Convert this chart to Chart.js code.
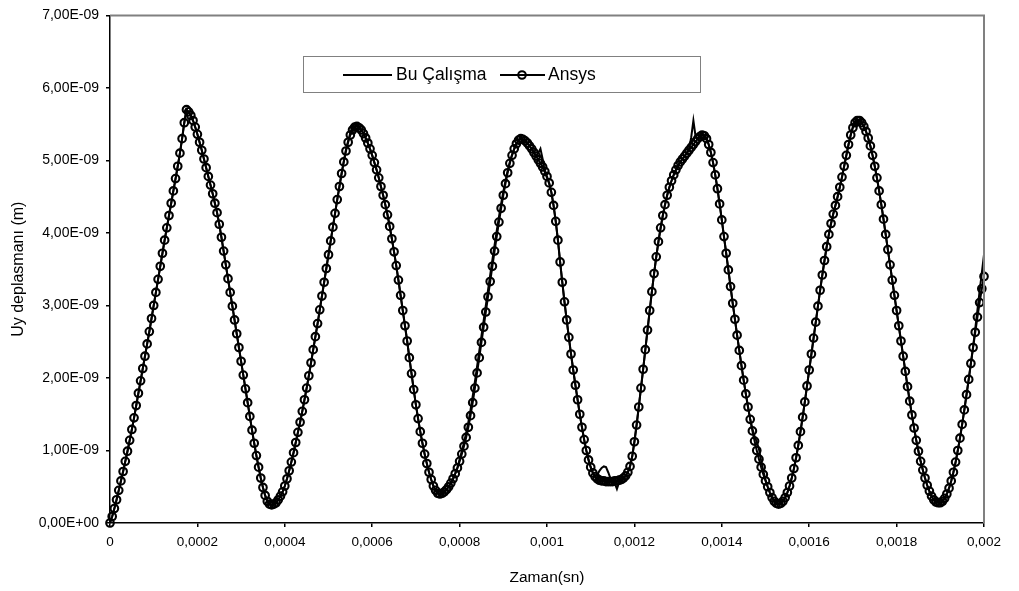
<!DOCTYPE html>
<html>
<head>
<meta charset="utf-8">
<script src="https://cdn.jsdelivr.net/npm/chart.js@4.4.1/dist/chart.umd.min.js"></script>
<style>
  html, body { margin: 0; padding: 0; background: #fff; }
  canvas { display: block; }
</style>
</head>
<body>
<canvas id="chart" width="1019" height="591"></canvas>
<script>
// zaman (mikrosaniye) - her iki seri için ortak
const timeUs = [
  0, 5, 10, 15, 20, 25, 30, 35, 40, 45, 50, 55, 60, 65, 70, 75, 80, 85, 90, 95,
  100, 105, 110, 115, 120, 125, 130, 135, 140, 145, 150, 155, 160, 165, 170, 175, 180, 185, 190, 195,
  200, 205, 210, 215, 220, 225, 230, 235, 240, 245, 250, 255, 260, 265, 270, 275, 280, 285, 290, 295,
  300, 305, 310, 315, 320, 325, 330, 335, 340, 345, 350, 355, 360, 365, 370, 375, 380, 385, 390, 395,
  400, 405, 410, 415, 420, 425, 430, 435, 440, 445, 450, 455, 460, 465, 470, 475, 480, 485, 490, 495,
  500, 505, 510, 515, 520, 525, 530, 535, 540, 545, 550, 555, 560, 565, 570, 575, 580, 585, 590, 595,
  600, 605, 610, 615, 620, 625, 630, 635, 640, 645, 650, 655, 660, 665, 670, 675, 680, 685, 690, 695,
  700, 705, 710, 715, 720, 725, 730, 735, 740, 745, 750, 755, 760, 765, 770, 775, 780, 785, 790, 795,
  800, 805, 810, 815, 820, 825, 830, 835, 840, 845, 850, 855, 860, 865, 870, 875, 880, 885, 890, 895,
  900, 905, 910, 915, 920, 925, 930, 935, 940, 945, 950, 955, 960, 965, 970, 975, 980, 985, 990, 995,
  1000, 1005, 1010, 1015, 1020, 1025, 1030, 1035, 1040, 1045, 1050, 1055, 1060, 1065, 1070, 1075, 1080, 1085, 1090, 1095,
  1100, 1105, 1110, 1115, 1120, 1125, 1130, 1135, 1140, 1145, 1150, 1155, 1160, 1165, 1170, 1175, 1180, 1185, 1190, 1195,
  1200, 1205, 1210, 1215, 1220, 1225, 1230, 1235, 1240, 1245, 1250, 1255, 1260, 1265, 1270, 1275, 1280, 1285, 1290, 1295,
  1300, 1305, 1310, 1315, 1320, 1325, 1330, 1335, 1340, 1345, 1350, 1355, 1360, 1365, 1370, 1375, 1380, 1385, 1390, 1395,
  1400, 1405, 1410, 1415, 1420, 1425, 1430, 1435, 1440, 1445, 1450, 1455, 1460, 1465, 1470, 1475, 1480, 1485, 1490, 1495,
  1500, 1505, 1510, 1515, 1520, 1525, 1530, 1535, 1540, 1545, 1550, 1555, 1560, 1565, 1570, 1575, 1580, 1585, 1590, 1595,
  1600, 1605, 1610, 1615, 1620, 1625, 1630, 1635, 1640, 1645, 1650, 1655, 1660, 1665, 1670, 1675, 1680, 1685, 1690, 1695,
  1700, 1705, 1710, 1715, 1720, 1725, 1730, 1735, 1740, 1745, 1750, 1755, 1760, 1765, 1770, 1775, 1780, 1785, 1790, 1795,
  1800, 1805, 1810, 1815, 1820, 1825, 1830, 1835, 1840, 1845, 1850, 1855, 1860, 1865, 1870, 1875, 1880, 1885, 1890, 1895,
  1900, 1905, 1910, 1915, 1920, 1925, 1930, 1935, 1940, 1945, 1950, 1955, 1960, 1965, 1970, 1975, 1980, 1985, 1990, 1995,
  2000
];

// Uy (x 1E-09 m) - Ansys
const ansysUy = [
  0.00, 0.09, 0.20, 0.32, 0.45, 0.58, 0.71, 0.85, 0.99, 1.14, 1.29, 1.45, 1.62, 1.79, 1.96, 2.13, 2.30, 2.47, 2.64, 2.82,
  3.00, 3.18, 3.36, 3.54, 3.72, 3.90, 4.07, 4.24, 4.41, 4.58, 4.75, 4.92, 5.10, 5.30, 5.52, 5.70, 5.67, 5.62, 5.55, 5.46,
  5.36, 5.25, 5.14, 5.02, 4.90, 4.78, 4.66, 4.54, 4.41, 4.28, 4.12, 3.94, 3.75, 3.56, 3.37, 3.18, 2.99, 2.80, 2.61, 2.42,
  2.23, 2.04, 1.85, 1.66, 1.47, 1.28, 1.10, 0.93, 0.77, 0.62, 0.49, 0.38, 0.30, 0.26, 0.25, 0.26, 0.28, 0.32, 0.37, 0.43,
  0.51, 0.61, 0.72, 0.84, 0.97, 1.11, 1.25, 1.39, 1.54, 1.70, 1.86, 2.03, 2.21, 2.39, 2.57, 2.75, 2.94, 3.13, 3.32, 3.51,
  3.70, 3.89, 4.08, 4.27, 4.46, 4.64, 4.82, 4.98, 5.13, 5.25, 5.35, 5.42, 5.46, 5.47, 5.45, 5.42, 5.37, 5.31, 5.24, 5.16,
  5.07, 4.97, 4.87, 4.76, 4.64, 4.52, 4.39, 4.25, 4.09, 3.92, 3.74, 3.55, 3.35, 3.14, 2.93, 2.72, 2.51, 2.28, 2.06, 1.84,
  1.63, 1.44, 1.26, 1.10, 0.95, 0.82, 0.70, 0.60, 0.51, 0.45, 0.41, 0.40, 0.41, 0.43, 0.46, 0.50, 0.55, 0.61, 0.68, 0.76,
  0.85, 0.95, 1.06, 1.18, 1.32, 1.48, 1.66, 1.86, 2.07, 2.28, 2.49, 2.70, 2.91, 3.12, 3.33, 3.54, 3.75, 3.95, 4.15, 4.34,
  4.52, 4.68, 4.83, 4.96, 5.07, 5.16, 5.23, 5.28, 5.30, 5.29, 5.27, 5.24, 5.20, 5.16, 5.11, 5.06, 5.01, 4.96, 4.91, 4.85,
  4.78, 4.69, 4.56, 4.38, 4.16, 3.90, 3.60, 3.32, 3.05, 2.80, 2.56, 2.33, 2.11, 1.90, 1.70, 1.50, 1.32, 1.15, 1.00, 0.87,
  0.77, 0.69, 0.64, 0.61, 0.59, 0.58, 0.58, 0.57, 0.57, 0.57, 0.57, 0.58, 0.58, 0.59, 0.60, 0.62, 0.65, 0.70, 0.78, 0.92,
  1.12, 1.35, 1.60, 1.86, 2.12, 2.39, 2.66, 2.93, 3.19, 3.44, 3.67, 3.88, 4.07, 4.24, 4.39, 4.52, 4.63, 4.72, 4.80, 4.87,
  4.93, 4.98, 5.02, 5.06, 5.10, 5.14, 5.18, 5.22, 5.26, 5.30, 5.33, 5.35, 5.34, 5.30, 5.22, 5.11, 4.97, 4.80, 4.61, 4.40,
  4.18, 3.95, 3.72, 3.49, 3.26, 3.03, 2.81, 2.59, 2.38, 2.17, 1.97, 1.78, 1.60, 1.43, 1.27, 1.13, 1.00, 0.88, 0.77, 0.67,
  0.58, 0.50, 0.42, 0.35, 0.30, 0.27, 0.26, 0.27, 0.30, 0.35, 0.42, 0.51, 0.62, 0.75, 0.90, 1.07, 1.26, 1.46, 1.67, 1.89,
  2.11, 2.33, 2.55, 2.77, 2.99, 3.21, 3.42, 3.62, 3.81, 3.98, 4.13, 4.26, 4.38, 4.50, 4.63, 4.77, 4.92, 5.07, 5.22, 5.35,
  5.45, 5.52, 5.55, 5.55, 5.52, 5.47, 5.40, 5.31, 5.20, 5.07, 4.92, 4.76, 4.58, 4.39, 4.19, 3.98, 3.77, 3.56, 3.35, 3.14,
  2.93, 2.72, 2.51, 2.30, 2.09, 1.88, 1.68, 1.49, 1.31, 1.14, 0.99, 0.85, 0.73, 0.62, 0.52, 0.44, 0.37, 0.32, 0.29, 0.28,
  0.28, 0.30, 0.34, 0.40, 0.48, 0.58, 0.70, 0.84, 1.00, 1.17, 1.36, 1.56, 1.77, 1.98, 2.20, 2.42, 2.63, 2.84, 3.04, 3.23,
  3.40
];

// Uy (x 1E-09 m) - Bu Çalışma
const buUy = [
  0.00, 0.09, 0.20, 0.32, 0.45, 0.58, 0.71, 0.85, 0.99, 1.14, 1.29, 1.45, 1.62, 1.79, 1.96, 2.13, 2.30, 2.47, 2.64, 2.82,
  3.00, 3.18, 3.36, 3.54, 3.72, 3.90, 4.07, 4.24, 4.41, 4.58, 4.75, 4.92, 5.10, 5.30, 5.52, 5.70, 5.67, 5.62, 5.55, 5.46,
  5.36, 5.25, 5.14, 5.02, 4.90, 4.78, 4.66, 4.54, 4.41, 4.28, 4.12, 3.94, 3.75, 3.56, 3.37, 3.18, 2.99, 2.80, 2.61, 2.42,
  2.23, 2.04, 1.85, 1.66, 1.47, 1.28, 1.10, 0.93, 0.77, 0.62, 0.49, 0.38, 0.30, 0.26, 0.25, 0.26, 0.28, 0.32, 0.37, 0.43,
  0.51, 0.61, 0.72, 0.84, 0.97, 1.11, 1.25, 1.39, 1.54, 1.70, 1.86, 2.03, 2.21, 2.39, 2.57, 2.75, 2.94, 3.13, 3.32, 3.51,
  3.70, 3.89, 4.08, 4.27, 4.46, 4.64, 4.82, 4.99, 5.15, 5.27, 5.38, 5.46, 5.50, 5.50, 5.47, 5.43, 5.37, 5.31, 5.24, 5.16,
  5.07, 4.97, 4.87, 4.76, 4.64, 4.52, 4.39, 4.25, 4.09, 3.92, 3.74, 3.55, 3.35, 3.14, 2.93, 2.72, 2.51, 2.28, 2.06, 1.84,
  1.63, 1.44, 1.26, 1.10, 0.95, 0.82, 0.70, 0.60, 0.51, 0.45, 0.41, 0.40, 0.41, 0.43, 0.46, 0.50, 0.55, 0.61, 0.68, 0.76,
  0.88, 0.99, 1.11, 1.24, 1.39, 1.56, 1.75, 1.95, 2.16, 2.37, 2.58, 2.79, 3.00, 3.21, 3.42, 3.63, 3.83, 4.03, 4.22, 4.40,
  4.57, 4.72, 4.86, 4.98, 5.08, 5.16, 5.23, 5.28, 5.30, 5.29, 5.27, 5.24, 5.20, 5.16, 5.11, 5.06, 5.10, 5.16, 5.02, 4.84,
  4.76, 4.68, 4.56, 4.38, 4.16, 3.90, 3.60, 3.32, 3.05, 2.80, 2.56, 2.33, 2.11, 1.90, 1.70, 1.50, 1.32, 1.15, 1.00, 0.87,
  0.77, 0.69, 0.64, 0.66, 0.72, 0.76, 0.78, 0.77, 0.70, 0.62, 0.57, 0.55, 0.47, 0.56, 0.60, 0.62, 0.65, 0.70, 0.78, 0.92,
  1.12, 1.35, 1.60, 1.86, 2.12, 2.39, 2.66, 2.93, 3.19, 3.44, 3.67, 3.88, 4.07, 4.24, 4.39, 4.52, 4.63, 4.72, 4.80, 4.87,
  4.93, 4.98, 5.02, 5.06, 5.10, 5.16, 5.32, 5.55, 5.33, 5.30, 5.34, 5.37, 5.35, 5.30, 5.22, 5.11, 4.97, 4.80, 4.61, 4.40,
  4.18, 3.95, 3.72, 3.49, 3.26, 3.03, 2.81, 2.59, 2.38, 2.17, 1.97, 1.78, 1.60, 1.43, 1.30, 1.20, 1.12, 1.02, 0.86, 0.72,
  0.60, 0.50, 0.42, 0.35, 0.30, 0.27, 0.26, 0.27, 0.30, 0.35, 0.42, 0.51, 0.62, 0.75, 0.90, 1.07, 1.26, 1.46, 1.67, 1.89,
  2.11, 2.33, 2.55, 2.77, 2.99, 3.21, 3.42, 3.62, 3.81, 3.98, 4.13, 4.26, 4.38, 4.50, 4.63, 4.77, 4.92, 5.07, 5.22, 5.35,
  5.47, 5.54, 5.57, 5.56, 5.52, 5.47, 5.40, 5.31, 5.20, 5.07, 4.92, 4.76, 4.58, 4.39, 4.19, 3.98, 3.77, 3.56, 3.35, 3.14,
  2.93, 2.72, 2.51, 2.30, 2.09, 1.88, 1.68, 1.49, 1.31, 1.14, 0.99, 0.85, 0.73, 0.62, 0.52, 0.44, 0.37, 0.32, 0.29, 0.28,
  0.28, 0.30, 0.34, 0.40, 0.48, 0.58, 0.70, 0.84, 1.00, 1.17, 1.36, 1.56, 1.77, 1.98, 2.20, 2.43, 2.68, 2.94, 3.20, 3.45,
  3.70
];

// etiketler
const xTickLabels = ["0", "0,0002", "0,0004", "0,0006", "0,0008", "0,001", "0,0012", "0,0014", "0,0016", "0,0018", "0,002"];
const yTickLabels = ["0,00E+00", "1,00E-09", "2,00E-09", "3,00E-09", "4,00E-09", "5,00E-09", "6,00E-09", "7,00E-09"];

const fontFamily = "'Liberation Sans', Arial, sans-serif";
Chart.defaults.font.family = fontFamily;
Chart.defaults.color = "#000";

// Çerçeve (üst ve sağ gri kenar) ve kutulu lejant
const frameLegendPlugin = {
  id: "frameLegend",
  afterDraw: (chart) => {
    const { ctx, chartArea } = chart;
    ctx.save();
    ctx.strokeStyle = "#808080";
    ctx.lineWidth = 2;
    ctx.beginPath();
    ctx.moveTo(chartArea.left, chartArea.top);
    ctx.lineTo(chartArea.right, chartArea.top);
    ctx.lineTo(chartArea.right, chartArea.bottom);
    ctx.stroke();

    // lejant kutusu
    ctx.fillStyle = "#fff";
    ctx.fillRect(303, 56, 398, 37);
    ctx.lineWidth = 1;
    ctx.strokeRect(303.5, 56.5, 397, 36);

    const y = 75;
    ctx.strokeStyle = "#000";
    ctx.lineWidth = 2;
    ctx.beginPath();
    ctx.moveTo(343, y);
    ctx.lineTo(392, y);
    ctx.moveTo(500, y);
    ctx.lineTo(545, y);
    ctx.stroke();
    ctx.lineWidth = 2;
    ctx.beginPath();
    ctx.arc(522, y, 3.8, 0, Math.PI * 2);
    ctx.stroke();

    ctx.fillStyle = "#000";
    ctx.font = "17.5px " + fontFamily;
    ctx.textBaseline = "middle";
    ctx.textAlign = "left";
    ctx.fillText(chart.data.datasets[1].label, 396, y);
    ctx.fillText(chart.data.datasets[0].label, 548, y);
    ctx.restore();
  },
};

const ctx = document.getElementById("chart").getContext("2d");
new Chart(ctx, {
  type: "line",
  data: {
    labels: timeUs,
    datasets: [
      {
        label: "Ansys",
        data: ansysUy,
        borderColor: "#000",
        borderWidth: 2,
        pointRadius: 3.8,
        pointBorderWidth: 2.1,
        pointBorderColor: "#000",
        pointBackgroundColor: "rgba(0,0,0,0)",
        tension: 0,
        clip: false,
        order: 0,
      },
      {
        label: "Bu Çalışma",
        data: buUy,
        borderColor: "#000",
        borderWidth: 2,
        pointRadius: 0,
        tension: 0,
        clip: false,
        order: 1,
      },
    ],
  },
  options: {
    responsive: false,
    animation: false,
    events: [],
    layout: { padding: { left: 0, right: 35, top: 12, bottom: 0 } },
    plugins: {
      legend: { display: false },
      tooltip: { enabled: false },
    },
    scales: {
      x: {
        type: "linear",
        min: 0,
        max: 2000,
        border: { display: true, color: "#000", width: 1.5 },
        grid: { drawOnChartArea: false, drawTicks: true, tickLength: 4, color: "#000", lineWidth: 1.5 },
        ticks: {
          stepSize: 200,
          autoSkip: false,
          maxRotation: 0,
          padding: 7,
          color: "#000",
          font: { size: 13.5 },
          callback: (value, index) => xTickLabels[index],
        },
        title: {
          display: true,
          text: "Zaman(sn)",
          color: "#000",
          font: { size: 15.5 },
          padding: { top: 0, bottom: 4 },
        },
        afterFit: (scale) => {
          scale.height = 68;
        },
      },
      y: {
        min: 0,
        max: 7,
        border: { display: true, color: "#000", width: 1.5 },
        grid: { drawOnChartArea: false, drawTicks: true, tickLength: 4, color: "#000", lineWidth: 1.5 },
        ticks: {
          stepSize: 1,
          padding: 7,
          color: "#000",
          font: { size: 14 },
          callback: (value, index) => yTickLabels[index],
        },
        title: {
          display: true,
          text: "Uy deplasmanı (m)",
          color: "#000",
          font: { size: 16 },
          padding: { top: 9, bottom: 0 },
        },
        afterFit: (scale) => {
          scale.width = 110;
        },
      },
    },
  },
  plugins: [frameLegendPlugin],
});
</script>
</body>
</html>
